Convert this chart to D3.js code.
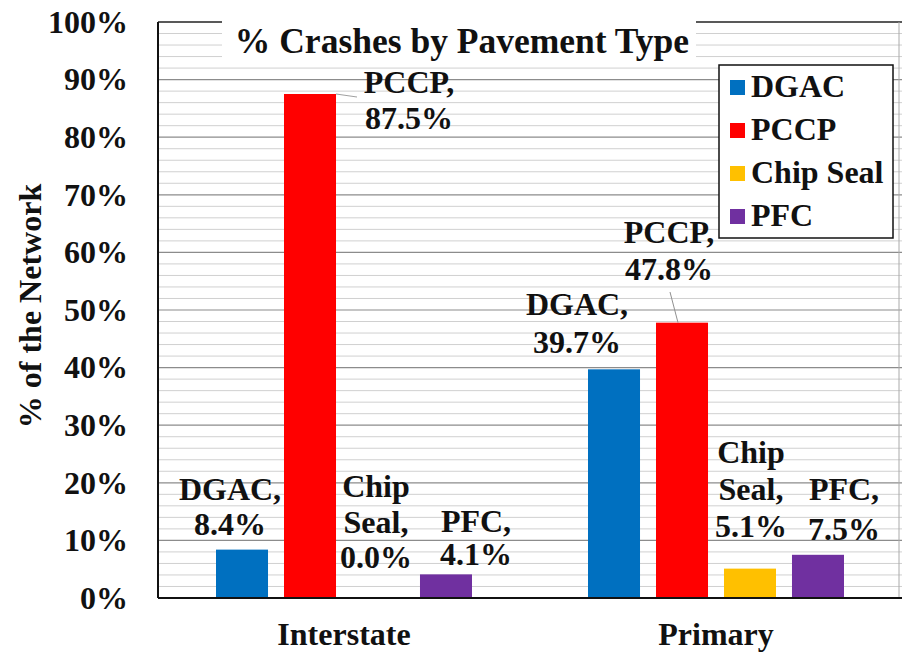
<!DOCTYPE html>
<html>
<head>
<meta charset="utf-8">
<script src="https://cdn.jsdelivr.net/npm/d3@7"></script>
<style>
  body { margin: 0; background: #fff; }
</style>
</head>
<body>
<div id="chart"></div>
<script>
const groups = ["Interstate", "Primary"];
const series = ["DGAC", "PCCP", "Chip Seal", "PFC"];
const colors = ["#0070C0", "#FF0000", "#FFC000", "#7030A0"];
const interstateValues = [8.4, 87.5, 0.0, 4.1];
const primaryValues = [39.7, 47.8, 5.1, 7.5];
const yTicks = [0, 10, 20, 30, 40, 50, 60, 70, 80, 90, 100];

let width = 902, height = 655;
let margin = {top: 22, right: 0, bottom: 57, left: 158};
let fs = 32;

let svg = d3.select("#chart").append("svg")
  .attr("width", width)
  .attr("height", height)
  .attr("font-family", "'Liberation Serif', 'DejaVu Serif', serif")
  .attr("font-weight", "bold")
  .attr("fill", "#111");

let y = d3.scaleLinear().domain([0, 100]).range([height - margin.bottom, margin.top]);
let x0 = d3.scaleBand().domain(groups).range([margin.left, width - margin.right]);
let x1 = d3.scaleBand().domain(series).range([0, x0.bandwidth()])
  .paddingInner(0.235).paddingOuter(0.853);
let color = d3.scaleOrdinal().domain(series).range(colors);

// minor gridlines every 2%
svg.append("g").selectAll("line")
  .data(d3.range(0, 101, 2).filter(v => v % 10 !== 0))
  .enter().append("line")
  .attr("x1", margin.left).attr("x2", width)
  .attr("y1", d => y(d)).attr("y2", d => y(d))
  .attr("stroke", "#d0d0d0").attr("stroke-width", 1);

// major gridlines
svg.append("g").selectAll("line")
  .data(yTicks.filter(v => v > 0 && v < 100))
  .enter().append("line")
  .attr("x1", margin.left).attr("x2", width)
  .attr("y1", d => y(d)).attr("y2", d => y(d))
  .attr("stroke", "#8c8c8c").attr("stroke-width", 1.2);

// plot border (top + right)
svg.append("line")
  .attr("x1", margin.left).attr("x2", width)
  .attr("y1", y(100)).attr("y2", y(100))
  .attr("stroke", "#222").attr("stroke-width", 1.5);
svg.append("line")
  .attr("x1", width - 3).attr("x2", width - 3)
  .attr("y1", y(100)).attr("y2", y(0))
  .attr("stroke", "#aaa").attr("stroke-width", 1);

// bars
let data = groups.map((g, i) => ({
  group: g,
  values: series.map((s, j) => ({key: s, value: (i === 0 ? interstateValues : primaryValues)[j]}))
}));

let gBars = svg.append("g").selectAll("g")
  .data(data)
  .enter().append("g")
  .attr("transform", d => `translate(${x0(d.group)},0)`);

gBars.selectAll("rect")
  .data(d => d.values)
  .enter().append("rect")
  .attr("x", d => x1(d.key))
  .attr("width", x1.bandwidth())
  .attr("y", d => y(d.value))
  .attr("height", d => y(0) - y(d.value))
  .attr("fill", d => color(d.key));

// axes lines
svg.append("line")
  .attr("x1", margin.left).attr("x2", margin.left)
  .attr("y1", y(100)).attr("y2", y(0))
  .attr("stroke", "#111").attr("stroke-width", 2);
svg.append("line")
  .attr("x1", margin.left).attr("x2", width)
  .attr("y1", y(0)).attr("y2", y(0))
  .attr("stroke", "#111").attr("stroke-width", 2);

// y tick labels
svg.append("g").selectAll("text")
  .data(yTicks)
  .enter().append("text")
  .attr("x", 128)
  .attr("y", d => y(d))
  .attr("dy", "0.34em")
  .attr("text-anchor", "end")
  .attr("font-size", fs)
  .text(d => d + "%");

// y axis title
svg.append("text")
  .attr("transform", `translate(41,306) rotate(-90)`)
  .attr("text-anchor", "middle")
  .attr("font-size", fs)
  .text("% of the Network");

// group labels
svg.append("g").selectAll("text")
  .data(groups)
  .enter().append("text")
  .attr("x", d => x0(d) + x0.bandwidth() / 2)
  .attr("y", 645)
  .attr("text-anchor", "middle")
  .attr("font-size", fs)
  .text(d => d);

// title box
svg.append("rect")
  .attr("x", 222).attr("y", y(100) - 2)
  .attr("width", 474).attr("height", 42)
  .attr("fill", "#fff");
svg.append("text")
  .attr("x", 462).attr("y", 53)
  .attr("text-anchor", "middle")
  .attr("font-size", 35.5)
  .text("% Crashes by Pavement Type");

// data label placement: [x offset from bar centre, first baseline, line gap]
const labelPos = {
  "Interstate|DGAC": [-12, 500, 35],
  "Interstate|PCCP": [99, 93, 36],
  "Interstate|Chip Seal": [-2, 497, 35.5],
  "Interstate|PFC": [30, 532, 33],
  "Primary|DGAC": [-37, 315, 38],
  "Primary|PCCP": [-13, 243, 37],
  "Primary|Chip Seal": [1, 463, 37],
  "Primary|PFC": [26, 500, 40]
};
let labels = [];
data.forEach(g => g.values.forEach(v => {
  let name = v.key === "Chip Seal" ? ["Chip", "Seal,"] : [v.key + ","];
  let p = labelPos[g.group + "|" + v.key];
  labels.push({
    lines: name.concat([v.value.toFixed(1) + "%"]),
    x: x0(g.group) + x1(v.key) + x1.bandwidth() / 2 + p[0],
    y: p[1], gap: p[2],
    group: g.group, key: v.key, value: v.value
  });
}));

// leader lines for the PCCP labels
svg.append("line")
  .attr("x1", x0("Interstate") + x1("PCCP") + x1.bandwidth()).attr("y1", y(interstateValues[1]))
  .attr("x2", 357).attr("y2", y(interstateValues[1]) + 3)
  .attr("stroke", "#a0a0a0").attr("stroke-width", 1);
svg.append("line")
  .attr("x1", x0("Primary") + x1("PCCP") + x1.bandwidth() / 2 - 4).attr("y1", y(primaryValues[1]))
  .attr("x2", 670).attr("y2", 292)
  .attr("stroke", "#909090").attr("stroke-width", 1);

let lab = svg.append("g").selectAll("text")
  .data(labels)
  .enter().append("text")
  .attr("text-anchor", "middle")
  .attr("font-size", fs);
lab.selectAll("tspan")
  .data(d => d.lines.map((t, i) => ({t, i, x: d.x, y: d.y, gap: d.gap})))
  .enter().append("tspan")
  .attr("x", d => d.x)
  .attr("y", d => d.y + d.i * d.gap)
  .text(d => d.t);

// legend
let legend = svg.append("g").attr("transform", "translate(719,65)");
legend.append("rect")
  .attr("width", 174).attr("height", 173)
  .attr("fill", "#fff").attr("stroke", "#111").attr("stroke-width", 1.5);
let li = legend.selectAll("g.item")
  .data(series)
  .enter().append("g")
  .attr("class", "item")
  .attr("transform", (d, i) => `translate(11,${32 + i * 43})`);
li.append("rect")
  .attr("y", -17).attr("width", 15).attr("height", 15)
  .attr("fill", d => color(d));
li.append("text")
  .attr("x", 21)
  .attr("font-size", fs)
  .text(d => d);
</script>
</body>
</html>
